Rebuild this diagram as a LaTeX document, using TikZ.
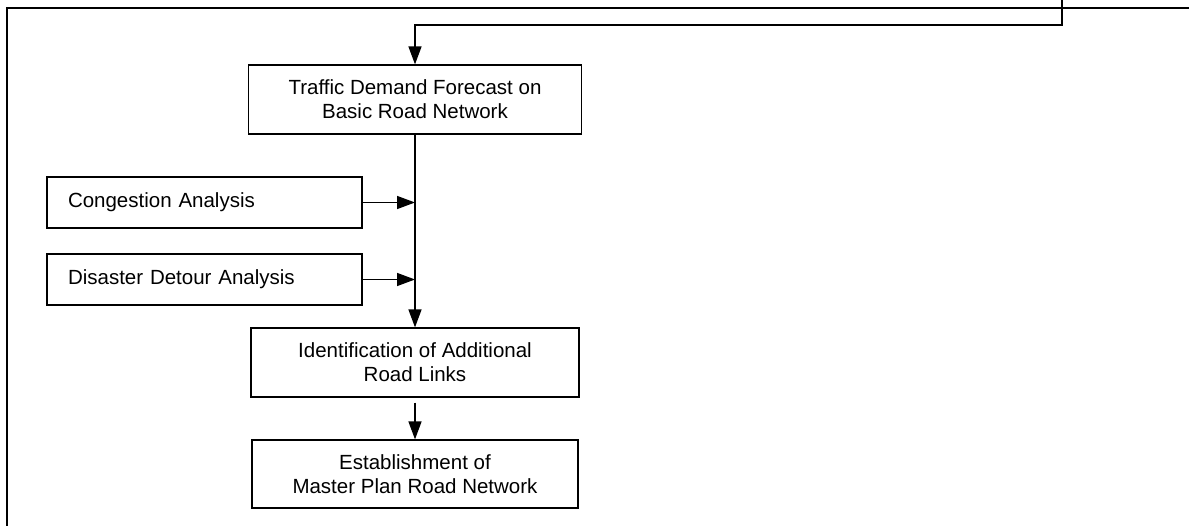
\documentclass[tikz,border=0pt]{standalone}
\usepackage{fontspec}
\setmainfont{Liberation Sans}
\usetikzlibrary{arrows.meta}
\tikzset{
  stepbox/.style={draw=black, line width=1.2pt, minimum width=#1,
                  inner sep=0pt, align=center,
                  font=\fontsize{20.5}{24}\selectfont},
  stepbox/.default=330pt,
  sidebox/.style={draw=black, line width=1.2pt, text width=273pt,
                  inner xsep=21pt, inner ysep=0pt, minimum height=51pt,
                  align=left, font=\fontsize{20.5}{24}\selectfont},
  flow/.style={line width=1.4pt, -{Triangle[length=18pt, width=13pt]}}}

\begin{document}
\begin{tikzpicture}[x=1pt, y=1pt]
  \useasboundingbox (0,0) rectangle (1189,-526);
  % outer frame, cut by the page
  \draw[line width=1.3pt] (7,-526) -- (7,-8) -- (1189,-8);
  % main steps
  \node[stepbox=333pt, minimum height=69pt] (demand) at (415,-99.5)
    {Traffic Demand Forecast on\\Basic Road Network};
  \node[stepbox=328pt, minimum height=69pt] (links) at (415,-362.5)
    {Identification of Additional\\Road Links};
  \node[stepbox=326pt, minimum height=68pt] (master) at (415,-474)
    {Establishment of\\Master Plan Road Network};
  % analyses feeding the main line
  \node[sidebox] (congest) at (204.5,-202.5) {Congestion Analysis};
  \node[sidebox] (detour) at (204.5,-279.5) {Disaster Detour Analysis};
  % incoming line from above
  \coordinate (feedtop) at (1062,0);
  \coordinate (feedturn) at (1062,-25);
  \draw[flow] (feedtop) -- (feedturn) -- (feedturn -| demand.north) -- (demand.north);
  \draw[flow] (demand.south) -- (links.north);
  \draw[flow] (congest.east) -- (congest.east -| demand.south);
  \draw[flow] (detour.east) -- (detour.east -| demand.south);
  \draw[flow] ([yshift=-5pt]links.south) -- (master.north);
\end{tikzpicture}
\end{document}
